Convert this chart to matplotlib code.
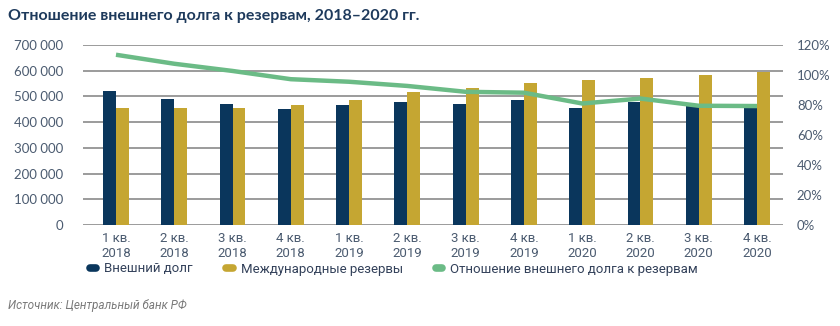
import matplotlib
matplotlib.use("Agg")
import matplotlib.pyplot as plt
from matplotlib.lines import Line2D
from matplotlib.ticker import FuncFormatter

categories = ["1 кв.\n2018", "2 кв.\n2018", "3 кв.\n2018", "4 кв.\n2018",
              "1 кв.\n2019", "2 кв.\n2019", "3 кв.\n2019", "4 кв.\n2019",
              "1 кв.\n2020", "2 кв.\n2020", "3 кв.\n2020", "4 кв.\n2020"]
external_debt = [519600, 491000, 469000, 452000, 465000, 480000,
                 472000, 488000, 456500, 478000, 470000, 467000]
reserves = [456000, 456000, 456000, 465000, 488000, 518000,
            531000, 553000, 563500, 570000, 583000, 596000]
ratio = [113.5, 107.5, 102.7, 97.2, 95.5, 92.7, 88.8, 88.2, 81.0, 84.3, 79.5, 79.3]
left_ticks = [0, 100000, 200000, 300000, 400000, 500000, 600000, 700000]
right_ticks = [0, 20, 40, 60, 80, 100, 120]

series_names = ["Внешний долг", "Международные резервы",
                "Отношение внешнего долга к резервам"]
title = "Отношение внешнего долга к резервам, 2018–2020 гг."
source = "Источник: Центральный банк РФ"

navy = "#0A365C"
gold = "#C5A632"
green = "#6BBB86"
tick_col = "#4B5B70"
grid_col = "#8A8A8A"

fig = plt.figure(figsize=(8.4, 3.26), dpi=100)
ax = fig.add_axes([83/840, 1-225/326, 700/840, 180/326])

x = list(range(len(categories)))
w = 0.222
ax.bar([i - w/2 for i in x], external_debt, width=w, color=navy, zorder=3)
ax.bar([i + w/2 for i in x], reserves, width=w, color=gold, zorder=3)

ax.set_ylim(0, 700000)
ax.set_yticks(left_ticks)
ax.yaxis.set_major_formatter(FuncFormatter(lambda v, p: f"{int(v):,}".replace(",", " ")))
ax.set_xlim(-0.566, 11.446)
ax.set_xticks(x)
ax.set_xticklabels(categories, fontfamily="Roboto", fontsize=9.5, color=tick_col,
                   linespacing=1.2)
ax.tick_params(axis="x", length=0, pad=5)
ax.tick_params(axis="y", length=0, pad=14.5, labelsize=9.5, labelcolor=tick_col)
for lab in ax.get_yticklabels():
    lab.set_fontfamily("Lato")
ax.grid(axis="y", color=grid_col, linewidth=1.2, zorder=0)
for s in ax.spines.values():
    s.set_visible(False)

ax2 = ax.twinx()
ax2.plot(x, ratio, color=green, linewidth=3.2, zorder=5, solid_capstyle="butt")
ax2.set_ylim(0, 120)
ax2.set_yticks(right_ticks)
ax2.yaxis.set_major_formatter(FuncFormatter(lambda v, p: f"{int(v)}%"))
ax2.tick_params(axis="y", length=0, pad=10, labelsize=9.5, labelcolor=tick_col)
for lab in ax2.get_yticklabels():
    lab.set_fontfamily("Lato")
for s in ax2.spines.values():
    s.set_visible(False)

handles = [Line2D([0], [0], color=c, lw=5.5, solid_capstyle="round")
           for c in (navy, gold, green)]
leg = fig.legend(handles, series_names, loc="center left",
                 bbox_to_anchor=(78/840, 1-269/326), ncol=3, frameon=False,
                 handlelength=0.5, handletextpad=0.6, columnspacing=2.5,
                 prop={"family": "Roboto", "size": 9.5})
for t in leg.get_texts():
    t.set_color("#33415A")

fig.text(8/840, 1-16/326, title, fontfamily="Lato", fontweight="bold",
         fontsize=11.5, color="#1E3A5C", va="center", ha="left")
fig.text(8/840, 1-306/326, source, fontfamily="Roboto", fontstyle="italic",
         fontsize=8.5, color="#7A7A7A", va="center", ha="left")

fig.savefig("out.png", dpi=100)
